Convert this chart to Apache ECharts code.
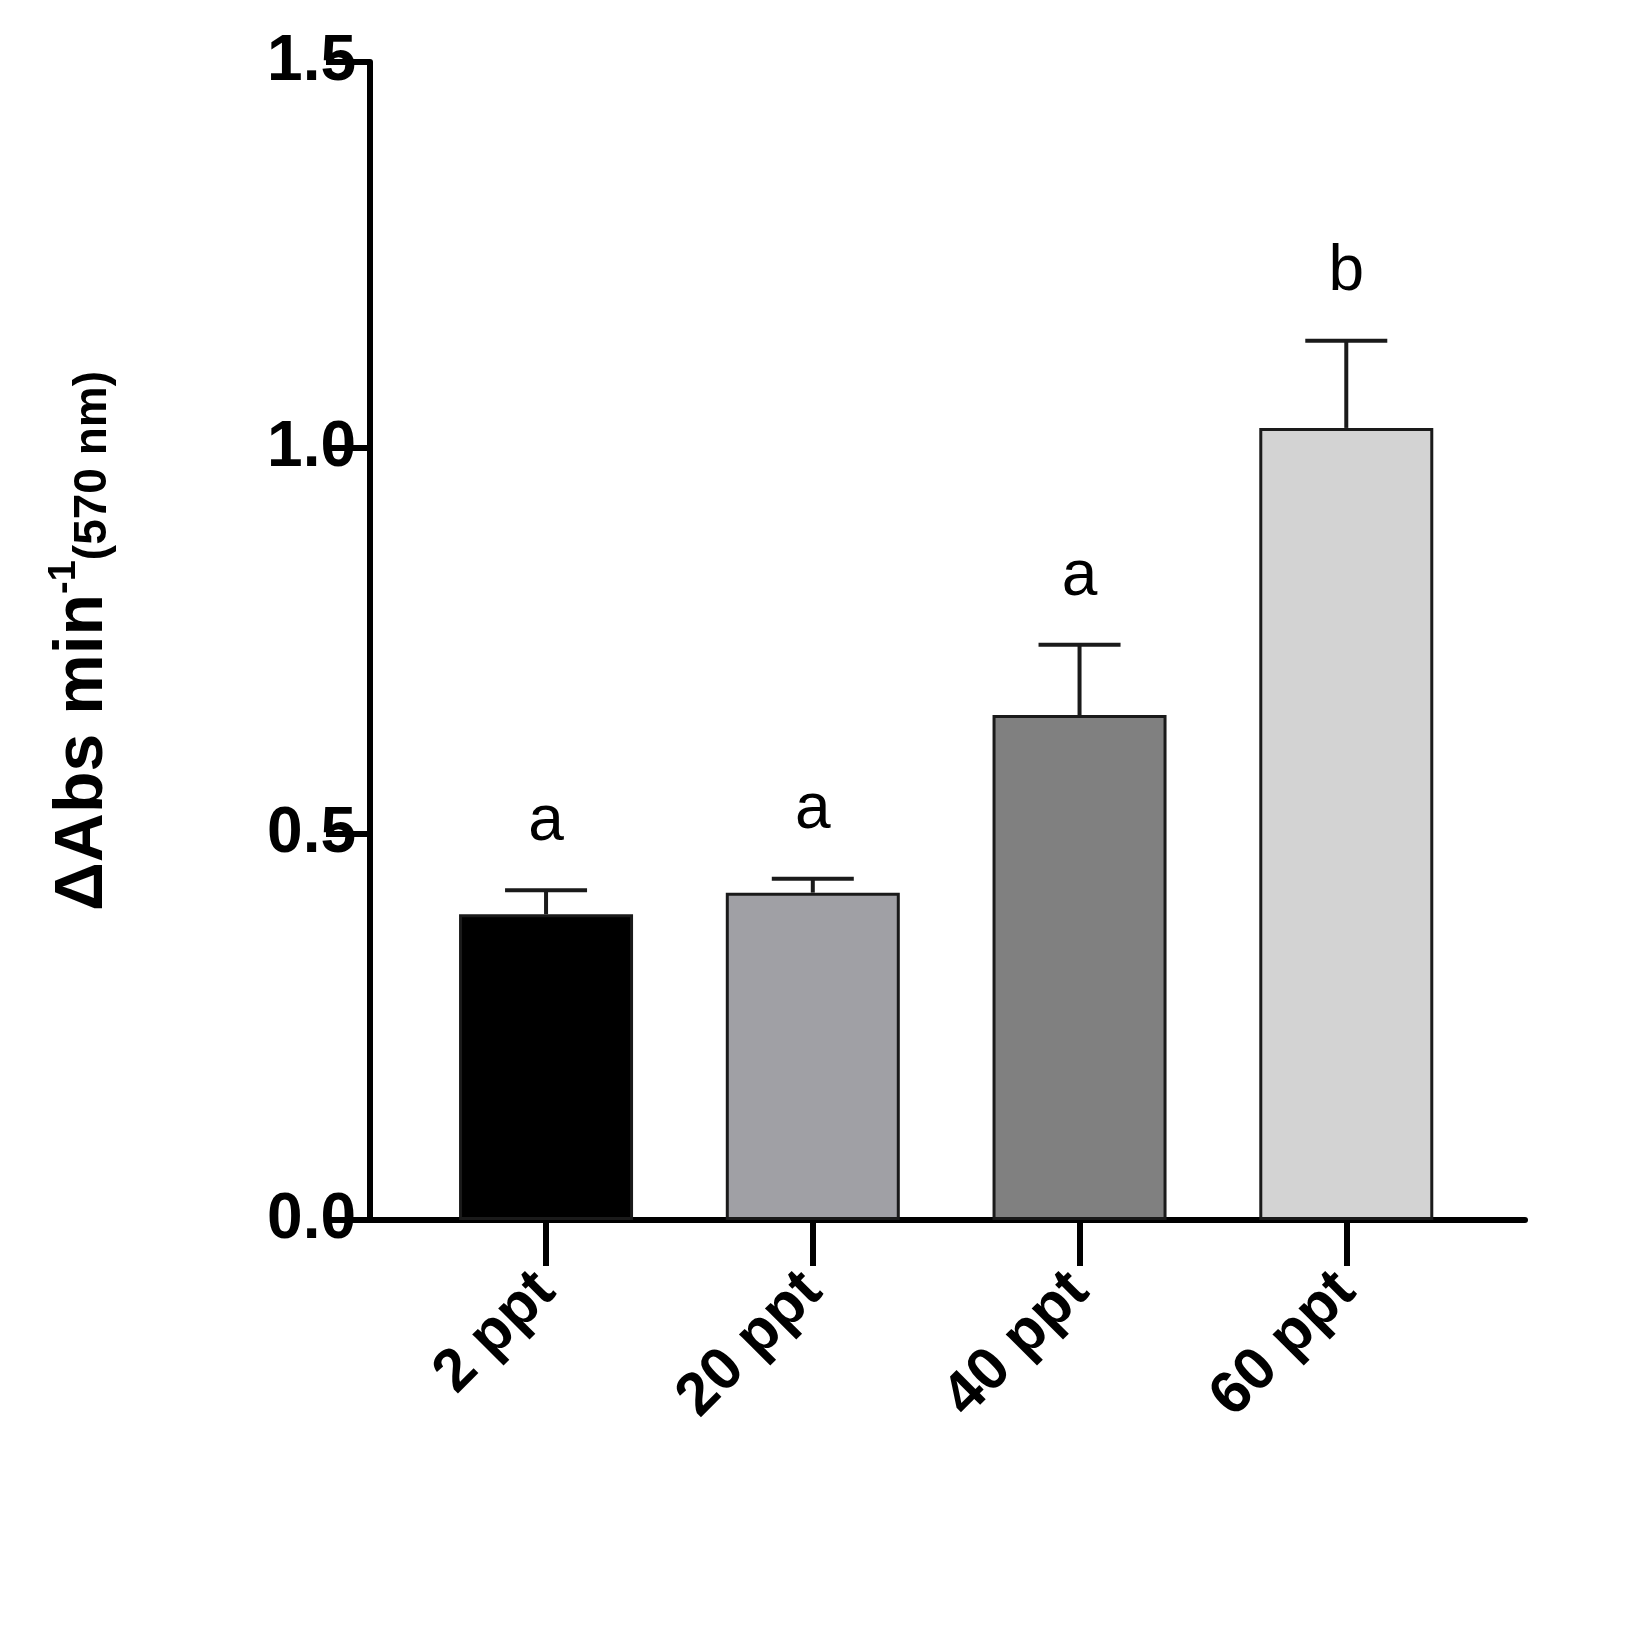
<!DOCTYPE html>
<html>
<head>
<meta charset="utf-8">
<script src="https://cdn.jsdelivr.net/npm/echarts@6/dist/echarts.min.js"></script>
<style>html,body{margin:0;background:#fff}#chart{width:1631px;height:1626px}</style>
</head>
<body>
<div id="chart"></div>
<script>
// data
const categories = ['2 ppt', '20 ppt', '40 ppt', '60 ppt'];
const means = [0.396, 0.424, 0.654, 1.026];
const errors = [0.031, 0.018, 0.091, 0.113];
const letters = ['a', 'a', 'a', 'b'];
const colors = ['#000000', '#a0a0a5', '#808080', '#d3d3d3'];
const yTicks = ['0.0', '0.5', '1.0', '1.5'];

const chart = echarts.init(document.getElementById('chart'));
const font = 'Arial, "Liberation Sans", sans-serif';

chart.setOption({
  animation: false,
  grid: { left: 370, right: 106, top: 62, bottom: 406 },
  xAxis: {
    type: 'value', min: -0.66, max: 3.67,
    splitLine: { show: false },
    axisLine: { onZero: false, lineStyle: { color: '#000', width: 6 } },
    axisTick: { show: true, customValues: [0, 1, 2, 3], length: 46, inside: false,
      lineStyle: { color: '#000', width: 6 } },
    axisLabel: { customValues: [0, 1, 2, 3], rotate: 45, margin: 62,
      formatter: v => categories[Math.round(v)],
      fontFamily: font, fontWeight: 'bold', fontSize: 60, color: '#000' }
  },
  yAxis: {
    type: 'value', min: 0, max: 1.5, interval: 0.5,
    splitLine: { show: false },
    axisLine: { show: true, onZero: false, lineStyle: { color: '#000', width: 6 } },
    axisTick: { show: true, length: 44, lineStyle: { color: '#000', width: 6 } },
    axisLabel: { margin: 14, formatter: v => yTicks[Math.round(v * 2)],
      fontFamily: font, fontWeight: 'bold', fontSize: 64, color: '#000' },
    name: '{m|ΔAbs min}{s|-1}{n|(570 nm)}',
    nameLocation: 'middle', nameGap: 250, nameRotate: 90,
    nameTextStyle: {
      rich: {
        m: { fontFamily: font, fontWeight: 'bold', fontSize: 68, color: '#000' },
        s: { fontFamily: font, fontWeight: 'bold', fontSize: 38, color: '#000', verticalAlign: 'top', padding: [0, 0, 36, 0] },
        n: { fontFamily: font, fontWeight: 'bold', fontSize: 46, color: '#000', padding: [20, 0, 0, 0] }
      }
    }
  },
  series: [
    {
      type: 'bar', barWidth: 174,
      data: means.map((v, i) => ({ value: [i, v],
        itemStyle: { color: colors[i], borderColor: '#1a1a1a', borderWidth: 3 } }))
    },
    {
      type: 'custom', z: 3,
      data: means.map((v, i) => [i, v, v + errors[i]]),
      renderItem: (params, api) => {
        const base = api.coord([api.value(0), api.value(1)]);
        const top = api.coord([api.value(0), api.value(2)]);
        const i = params.dataIndex;
        const st = { stroke: '#1a1a1a', lineWidth: 4 };
        return { type: 'group', children: [
          { type: 'line', shape: { x1: base[0], y1: base[1], x2: top[0], y2: top[1] }, style: st },
          { type: 'line', shape: { x1: top[0] - 41, y1: top[1], x2: top[0] + 41, y2: top[1] }, style: st },
          { type: 'text', x: top[0], y: top[1] - 36, style: { text: letters[i], fontFamily: font,
            fontSize: 64, fill: '#000', align: 'center', verticalAlign: 'bottom' } }
        ] };
      }
    }
  ]
});
</script>
</body>
</html>
